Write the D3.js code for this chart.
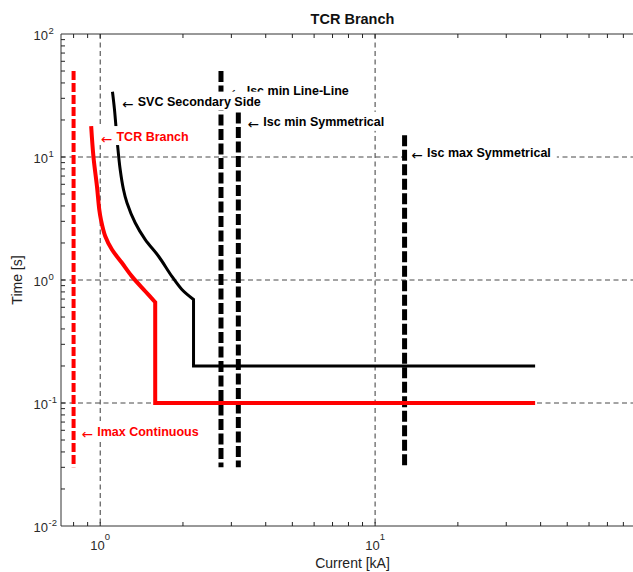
<!DOCTYPE html>
<html><head><meta charset="utf-8">
<script src="https://cdn.jsdelivr.net/npm/d3@7"></script>
<style>body{margin:0;background:#fff} svg{display:block}</style>
</head><body>
<script>
// ---- data ----
const tcrCurrent = [0.927, 0.945, 0.973, 0.992, 1.006, 1.043, 1.103, 1.199, 1.304, 1.458, 1.585, 1.585, 38.2];
const tcrTime    = [17.8, 10.0, 5.79, 3.74, 3.10, 2.27, 1.77, 1.38, 1.07, 0.81, 0.66, 0.1, 0.1];
const svcCurrent = [1.108, 1.127, 1.156, 1.182, 1.215, 1.251, 1.340, 1.458, 1.630, 1.823, 1.982, 2.185, 2.185, 38.2];
const svcTime    = [33.9, 24.3, 12.6, 7.91, 5.44, 4.24, 2.92, 2.13, 1.56, 1.07, 0.837, 0.694, 0.2, 0.2];
const tcrCurvePoints = 11;   // first points form the smooth inverse-time part
const svcCurvePoints = 12;
const limitNames    = ["Imax Continuous", "Isc min Line-Line", "Isc min Symmetrical", "Isc max Symmetrical"];
const limitCurrent  = [0.8, 2.75, 3.18, 12.8];
const limitTimeLow  = [0.03, 0.03, 0.03, 0.03];
const limitTimeHigh = [50, 50, 23, 15];
const limitColors   = ["#ff0000", "#000000", "#000000", "#000000"];
const labelTexts   = ["Isc min Line-Line", "Isc min Symmetrical", "Isc max Symmetrical", "SVC Secondary Side", "TCR Branch", "Imax Continuous"];
const labelCurrent = [3.0, 3.45, 13.6, 1.205, 1.008, 0.858];
const labelTime    = [35.1, 19.3, 10.8, 28.2, 14.8, 0.0592];
const labelColors  = ["#000", "#000", "#000", "#000", "#ff0000", "#ff0000"];
const xDomain = [0.72, 100];
const yDomain = [0.01, 100];
const xTickPowers = [0, 1];
const yTickPowers = [-2, -1, 0, 1, 2];

// ---- layout ----
const W = 633, H = 572;
const m = {left: 61, top: 34};
const plotW = 589, plotH = 492;

const svg = d3.select("body").append("svg").attr("width", W).attr("height", H)
  .style("font-family", "'Liberation Sans', Arial, Helvetica, sans-serif");

const x = d3.scaleLog().domain(xDomain).range([m.left, m.left + plotW]);
const y = d3.scaleLog().domain(yDomain).range([m.top + plotH, m.top]);

svg.append("defs").append("clipPath").attr("id", "clip")
  .append("rect").attr("x", m.left).attr("y", m.top).attr("width", plotW).attr("height", plotH);

const plot = svg.append("g").attr("clip-path", "url(#clip)");

// grid
const gridX = xTickPowers.map(p => Math.pow(10, p));
const gridY = [-1, 0, 1].map(p => Math.pow(10, p));
plot.selectAll(".gx").data(gridX).join("line")
  .attr("x1", d => x(d)).attr("x2", d => x(d))
  .attr("y1", m.top).attr("y2", m.top + plotH)
  .attr("stroke", "#222").attr("stroke-width", 0.9).attr("stroke-dasharray", "5,3.5");
plot.selectAll(".gy").data(gridY).join("line")
  .attr("y1", d => y(d)).attr("y2", d => y(d))
  .attr("x1", m.left).attr("x2", m.left + plotW)
  .attr("stroke", "#333").attr("stroke-width", 0.9).attr("stroke-dasharray", "5,3.5");

// limit lines
limitCurrent.forEach((c, i) => {
  plot.append("line")
    .attr("x1", x(c)).attr("x2", x(c))
    .attr("y1", y(limitTimeHigh[i])).attr("y2", y(limitTimeLow[i]))
    .attr("stroke", limitColors[i])
    .attr("stroke-width", i === 0 ? 4 : 5)
    .attr("stroke-dasharray", i === 0 ? "9,3" : "11,3.5");
});

// curves: smooth part + straight step part in one path
function curvePath(cs, ts, nCurve) {
  const pts = cs.map((c, i) => [x(c), y(ts[i])]);
  const smooth = d3.line().curve(d3.curveCatmullRom.alpha(0.5))(pts.slice(0, nCurve));
  const rest = pts.slice(nCurve).map(p => `L${p[0]},${p[1]}`).join("");
  return smooth + rest;
}
plot.append("path").attr("d", curvePath(svcCurrent, svcTime, svcCurvePoints))
  .attr("fill", "none").attr("stroke", "#000").attr("stroke-width", 3)
  .attr("stroke-linejoin", "miter");
plot.append("path").attr("d", curvePath(tcrCurrent, tcrTime, tcrCurvePoints))
  .attr("fill", "none").attr("stroke", "#ff0000").attr("stroke-width", 4)
  .attr("stroke-linejoin", "miter");

// labels with white background
labelTexts.forEach((t, i) => {
  const cx = x(labelCurrent[i]), cy = y(labelTime[i]);
  const g = svg.append("g").attr("transform", `translate(${cx},${cy})`);
  const bg = g.append("rect").attr("fill", "#fff");
  g.append("text").attr("x", -0.5).attr("y", 7.5)
    .attr("font-family", "'DejaVu Sans', sans-serif").attr("font-size", 13.5)
    .attr("fill", labelColors[i]).text("\u2190");
  const tx = g.append("text").attr("x", 15.3).attr("y", 4.6)
    .attr("font-size", 12.5).attr("font-weight", "bold")
    .attr("fill", labelColors[i]).text(t);
  const bb = tx.node().getBBox();
  bg.attr("x", -3).attr("y", -10).attr("width", bb.x + bb.width + 6 + 3).attr("height", 19);
});

// axes
const axisColor = "#333";
svg.append("line").attr("x1", m.left).attr("x2", W).attr("y1", m.top + plotH).attr("y2", m.top + plotH)
  .attr("stroke", axisColor).attr("stroke-width", 1);
svg.append("line").attr("x1", m.left).attr("x2", W).attr("y1", m.top).attr("y2", m.top)
  .attr("stroke", axisColor).attr("stroke-width", 1);
svg.append("line").attr("x1", m.left).attr("x2", m.left).attr("y1", m.top).attr("y2", m.top + plotH)
  .attr("stroke", axisColor).attr("stroke-width", 1);

const xt = x.ticks().filter(d => d > xDomain[0] && d < xDomain[1]);
const yt = y.ticks().filter(d => d > yDomain[0] && d < yDomain[1]);
const tl = 4;
svg.selectAll(".xtb").data(xt).join("line")
  .attr("x1", d => x(d)).attr("x2", d => x(d))
  .attr("y1", m.top + plotH).attr("y2", m.top + plotH - tl).attr("stroke", "#222");
svg.selectAll(".xtt").data(xt).join("line")
  .attr("x1", d => x(d)).attr("x2", d => x(d))
  .attr("y1", m.top).attr("y2", m.top + tl).attr("stroke", "#222");
svg.selectAll(".ytl").data(yt).join("line")
  .attr("y1", d => y(d)).attr("y2", d => y(d))
  .attr("x1", m.left).attr("x2", m.left + tl).attr("stroke", "#222");

// tick labels
const tickColor = "#2a2a2a";
xTickPowers.forEach(p => {
  const t = svg.append("text").attr("x", x(Math.pow(10, p))).attr("y", m.top + plotH + 24)
    .attr("text-anchor", "middle").attr("font-size", 13).attr("fill", tickColor);
  t.append("tspan").text("10");
  t.append("tspan").attr("dy", -10.5).attr("font-size", 9.5).text(String(p));
});
yTickPowers.forEach(p => {
  const yy = y(Math.pow(10, p));
  svg.append("text").attr("x", 48).attr("y", yy + 5.8)
    .attr("text-anchor", "end").attr("font-size", 13).attr("fill", tickColor).text("10");
  svg.append("text").attr("x", 48.5).attr("y", yy - 0.5)
    .attr("font-size", 9.5).attr("fill", tickColor).text(String(p));
});

// axis titles
svg.append("text").attr("x", m.left + plotW / 2 - 3).attr("y", 568)
  .attr("text-anchor", "middle").attr("font-size", 14).attr("fill", "#222").text("Current [kA]");
svg.append("text").attr("transform", `translate(22,${y(1)}) rotate(-90)`)
  .attr("text-anchor", "middle").attr("font-size", 14).attr("fill", "#222").text("Time [s]");
svg.append("text").attr("x", m.left + plotW / 2 - 3).attr("y", 24)
  .attr("text-anchor", "middle").attr("font-size", 14.5).attr("font-weight", "bold").attr("fill", "#111").text("TCR Branch");
</script>
</body></html>
